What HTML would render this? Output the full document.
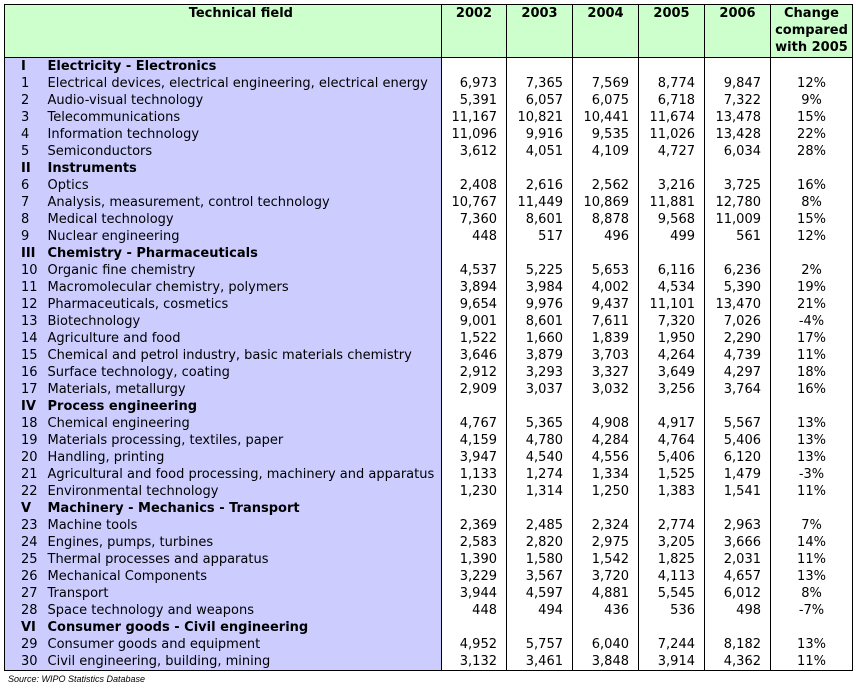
<!DOCTYPE html>
<html><head><meta charset="utf-8"><style>
body{margin:0;width:856px;height:688px;background:#fff;font-family:"DejaVu Sans",Verdana,sans-serif;font-size:13px;color:#000;position:relative;overflow:hidden}
table{position:absolute;left:4px;top:4px;border-collapse:collapse;table-layout:fixed;border:1px solid #000}
td{padding:0;height:17px;line-height:17px;white-space:nowrap;overflow:hidden;background:#fff}
td.n{background:#ccccff;padding-left:16px}
td.t{background:#ccccff;border-right:1px solid #000;padding-left:3px}
td.v{text-align:right;padding-right:9px;border-right:1px solid #000}
td.c{text-align:center;border-right:1px solid #000}
tr.s td{font-weight:bold}
tr.h td{background:#ccffcc;height:52px;vertical-align:top;font-weight:bold;text-align:center;border-bottom:1px solid #000;border-right:1px solid #000;line-height:17px;padding:0}
.src{position:absolute;left:8px;top:674px;font-size:9px;font-style:italic;font-family:"Liberation Sans",sans-serif}
</style></head><body>
<table>
<colgroup><col style="width:40px"><col style="width:397px"><col style="width:65px"><col style="width:66px"><col style="width:66px"><col style="width:66px"><col style="width:66px"><col style="width:82px"></colgroup>
<tr class="h"><td colspan="2" style="text-align:right;padding-right:148px">Technical field</td><td>2002</td><td>2003</td><td>2004</td><td>2005</td><td>2006</td><td>Change<br>compared<br>with 2005</td></tr>
<tr class="s"><td class="n">I</td><td class="t">Electricity - Electronics</td><td class="v"></td><td class="v"></td><td class="v"></td><td class="v"></td><td class="v"></td><td class="c"></td></tr>
<tr><td class="n">1</td><td class="t">Electrical devices, electrical engineering, electrical energy</td><td class="v">6,973</td><td class="v">7,365</td><td class="v">7,569</td><td class="v">8,774</td><td class="v">9,847</td><td class="c">12%</td></tr>
<tr><td class="n">2</td><td class="t">Audio-visual technology</td><td class="v">5,391</td><td class="v">6,057</td><td class="v">6,075</td><td class="v">6,718</td><td class="v">7,322</td><td class="c">9%</td></tr>
<tr><td class="n">3</td><td class="t">Telecommunications</td><td class="v">11,167</td><td class="v">10,821</td><td class="v">10,441</td><td class="v">11,674</td><td class="v">13,478</td><td class="c">15%</td></tr>
<tr><td class="n">4</td><td class="t">Information technology</td><td class="v">11,096</td><td class="v">9,916</td><td class="v">9,535</td><td class="v">11,026</td><td class="v">13,428</td><td class="c">22%</td></tr>
<tr><td class="n">5</td><td class="t">Semiconductors</td><td class="v">3,612</td><td class="v">4,051</td><td class="v">4,109</td><td class="v">4,727</td><td class="v">6,034</td><td class="c">28%</td></tr>
<tr class="s"><td class="n">II</td><td class="t">Instruments</td><td class="v"></td><td class="v"></td><td class="v"></td><td class="v"></td><td class="v"></td><td class="c"></td></tr>
<tr><td class="n">6</td><td class="t">Optics</td><td class="v">2,408</td><td class="v">2,616</td><td class="v">2,562</td><td class="v">3,216</td><td class="v">3,725</td><td class="c">16%</td></tr>
<tr><td class="n">7</td><td class="t">Analysis, measurement, control technology</td><td class="v">10,767</td><td class="v">11,449</td><td class="v">10,869</td><td class="v">11,881</td><td class="v">12,780</td><td class="c">8%</td></tr>
<tr><td class="n">8</td><td class="t">Medical technology</td><td class="v">7,360</td><td class="v">8,601</td><td class="v">8,878</td><td class="v">9,568</td><td class="v">11,009</td><td class="c">15%</td></tr>
<tr><td class="n">9</td><td class="t">Nuclear engineering</td><td class="v">448</td><td class="v">517</td><td class="v">496</td><td class="v">499</td><td class="v">561</td><td class="c">12%</td></tr>
<tr class="s"><td class="n">III</td><td class="t">Chemistry - Pharmaceuticals</td><td class="v"></td><td class="v"></td><td class="v"></td><td class="v"></td><td class="v"></td><td class="c"></td></tr>
<tr><td class="n">10</td><td class="t">Organic fine chemistry</td><td class="v">4,537</td><td class="v">5,225</td><td class="v">5,653</td><td class="v">6,116</td><td class="v">6,236</td><td class="c">2%</td></tr>
<tr><td class="n">11</td><td class="t">Macromolecular chemistry, polymers</td><td class="v">3,894</td><td class="v">3,984</td><td class="v">4,002</td><td class="v">4,534</td><td class="v">5,390</td><td class="c">19%</td></tr>
<tr><td class="n">12</td><td class="t">Pharmaceuticals, cosmetics</td><td class="v">9,654</td><td class="v">9,976</td><td class="v">9,437</td><td class="v">11,101</td><td class="v">13,470</td><td class="c">21%</td></tr>
<tr><td class="n">13</td><td class="t">Biotechnology</td><td class="v">9,001</td><td class="v">8,601</td><td class="v">7,611</td><td class="v">7,320</td><td class="v">7,026</td><td class="c">-4%</td></tr>
<tr><td class="n">14</td><td class="t">Agriculture and food</td><td class="v">1,522</td><td class="v">1,660</td><td class="v">1,839</td><td class="v">1,950</td><td class="v">2,290</td><td class="c">17%</td></tr>
<tr><td class="n">15</td><td class="t">Chemical and petrol industry, basic materials chemistry</td><td class="v">3,646</td><td class="v">3,879</td><td class="v">3,703</td><td class="v">4,264</td><td class="v">4,739</td><td class="c">11%</td></tr>
<tr><td class="n">16</td><td class="t">Surface technology, coating</td><td class="v">2,912</td><td class="v">3,293</td><td class="v">3,327</td><td class="v">3,649</td><td class="v">4,297</td><td class="c">18%</td></tr>
<tr><td class="n">17</td><td class="t">Materials, metallurgy</td><td class="v">2,909</td><td class="v">3,037</td><td class="v">3,032</td><td class="v">3,256</td><td class="v">3,764</td><td class="c">16%</td></tr>
<tr class="s"><td class="n">IV</td><td class="t">Process engineering</td><td class="v"></td><td class="v"></td><td class="v"></td><td class="v"></td><td class="v"></td><td class="c"></td></tr>
<tr><td class="n">18</td><td class="t">Chemical engineering</td><td class="v">4,767</td><td class="v">5,365</td><td class="v">4,908</td><td class="v">4,917</td><td class="v">5,567</td><td class="c">13%</td></tr>
<tr><td class="n">19</td><td class="t">Materials processing, textiles, paper</td><td class="v">4,159</td><td class="v">4,780</td><td class="v">4,284</td><td class="v">4,764</td><td class="v">5,406</td><td class="c">13%</td></tr>
<tr><td class="n">20</td><td class="t">Handling, printing</td><td class="v">3,947</td><td class="v">4,540</td><td class="v">4,556</td><td class="v">5,406</td><td class="v">6,120</td><td class="c">13%</td></tr>
<tr><td class="n">21</td><td class="t">Agricultural and food processing, machinery and apparatus</td><td class="v">1,133</td><td class="v">1,274</td><td class="v">1,334</td><td class="v">1,525</td><td class="v">1,479</td><td class="c">-3%</td></tr>
<tr><td class="n">22</td><td class="t">Environmental technology</td><td class="v">1,230</td><td class="v">1,314</td><td class="v">1,250</td><td class="v">1,383</td><td class="v">1,541</td><td class="c">11%</td></tr>
<tr class="s"><td class="n">V</td><td class="t">Machinery - Mechanics - Transport</td><td class="v"></td><td class="v"></td><td class="v"></td><td class="v"></td><td class="v"></td><td class="c"></td></tr>
<tr><td class="n">23</td><td class="t">Machine tools</td><td class="v">2,369</td><td class="v">2,485</td><td class="v">2,324</td><td class="v">2,774</td><td class="v">2,963</td><td class="c">7%</td></tr>
<tr><td class="n">24</td><td class="t">Engines, pumps, turbines</td><td class="v">2,583</td><td class="v">2,820</td><td class="v">2,975</td><td class="v">3,205</td><td class="v">3,666</td><td class="c">14%</td></tr>
<tr><td class="n">25</td><td class="t">Thermal processes and apparatus</td><td class="v">1,390</td><td class="v">1,580</td><td class="v">1,542</td><td class="v">1,825</td><td class="v">2,031</td><td class="c">11%</td></tr>
<tr><td class="n">26</td><td class="t">Mechanical Components</td><td class="v">3,229</td><td class="v">3,567</td><td class="v">3,720</td><td class="v">4,113</td><td class="v">4,657</td><td class="c">13%</td></tr>
<tr><td class="n">27</td><td class="t">Transport</td><td class="v">3,944</td><td class="v">4,597</td><td class="v">4,881</td><td class="v">5,545</td><td class="v">6,012</td><td class="c">8%</td></tr>
<tr><td class="n">28</td><td class="t">Space technology and weapons</td><td class="v">448</td><td class="v">494</td><td class="v">436</td><td class="v">536</td><td class="v">498</td><td class="c">-7%</td></tr>
<tr class="s"><td class="n">VI</td><td class="t">Consumer goods - Civil engineering</td><td class="v"></td><td class="v"></td><td class="v"></td><td class="v"></td><td class="v"></td><td class="c"></td></tr>
<tr><td class="n">29</td><td class="t">Consumer goods and equipment</td><td class="v">4,952</td><td class="v">5,757</td><td class="v">6,040</td><td class="v">7,244</td><td class="v">8,182</td><td class="c">13%</td></tr>
<tr><td class="n">30</td><td class="t">Civil engineering, building, mining</td><td class="v">3,132</td><td class="v">3,461</td><td class="v">3,848</td><td class="v">3,914</td><td class="v">4,362</td><td class="c">11%</td></tr>
</table>
<div class="src">Source: WIPO Statistics Database</div>
</body></html>
